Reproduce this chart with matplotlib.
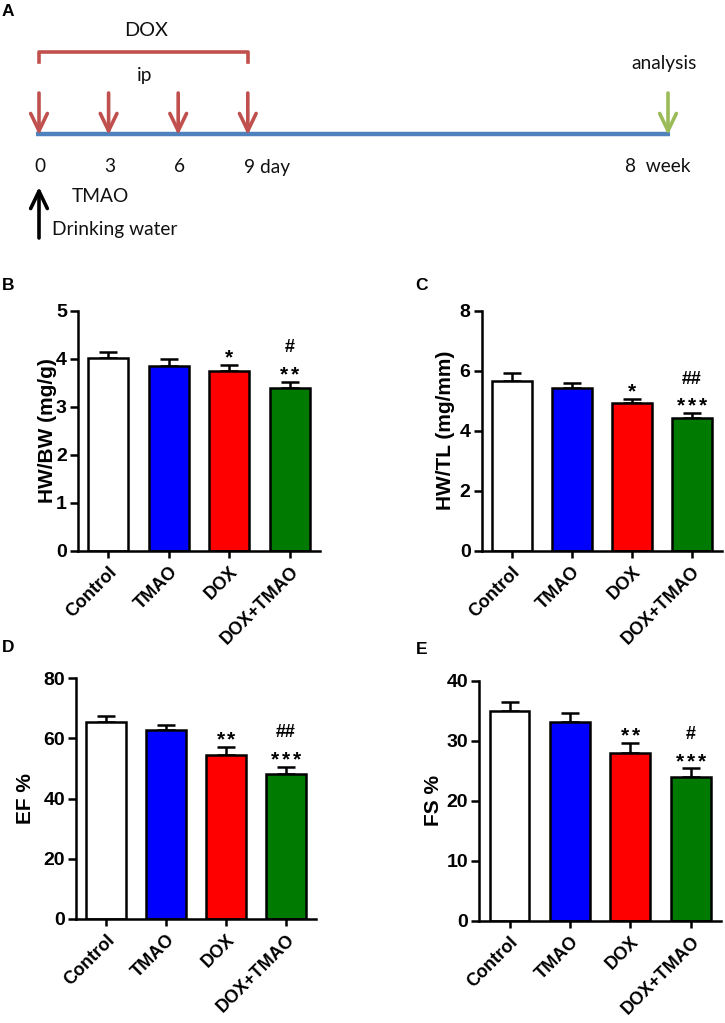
import matplotlib
matplotlib.use('Agg')
import matplotlib.pyplot as plt
from matplotlib.patches import FancyArrowPatch

# ---- data ----
groups = ['Control', 'TMAO', 'DOX', 'DOX+TMAO']
colors = ['white', '#0000ff', '#ff0000', '#007a00']

hwbw = [4.02, 3.85, 3.74, 3.40]
hwbw_err = [0.13, 0.14, 0.13, 0.12]
hwtl = [5.67, 5.41, 4.92, 4.43]
hwtl_err = [0.26, 0.17, 0.14, 0.15]
ef = [65.4, 62.7, 54.6, 48.1]
ef_err = [2.0, 1.8, 2.5, 2.4]
fs = [35.05, 33.2, 28.0, 23.9]
fs_err = [1.4, 1.5, 1.7, 1.5]

# number of asterisks / significance marks per group
star_b = [0, 0, 1, 2]
hash_b = ['', '', '', '#']
star_c = [0, 0, 1, 3]
hash_c = ['', '', '', '##']
star_d = [0, 0, 2, 3]
hash_d = ['', '', '', '##']
star_e = [0, 0, 2, 3]
hash_e = ['', '', '', '#']

dose_days = [0, 3, 6, 9]
day_labels = ['0', '3', '6', '9 day']

W, H = 725, 1023
fig = plt.figure(figsize=(W / 100, H / 100), dpi=100)
plt.rcParams['font.family'] = ['Liberation Sans', 'DejaVu Sans']

# ---- panel A: schematic timeline (pixel coordinates) ----
ax0 = fig.add_axes([0, 0, 1, 1])
ax0.set_xlim(0, W)
ax0.set_ylim(H, 0)
ax0.axis('off')

red = '#c0504d'
blue = '#4f81bd'
green = '#9bbb59'
x0, step = 39, 23.2
line_y = 134
end_x = 668
sfont = 'Lato'
tsize = 13.8

ax0.plot([36, end_x + 2], [line_y, line_y], color=blue, lw=3.2, solid_capstyle='butt', zorder=1)


def arrow(xa, ya, xb, yb, c):
    ax0.add_patch(FancyArrowPatch((xa, ya), (xb, yb),
                                  arrowstyle='->,head_length=12.5,head_width=6',
                                  mutation_scale=1, color=c, lw=2.6, zorder=2,
                                  shrinkA=0, shrinkB=0))


for d, lab in zip(dose_days, day_labels):
    xd = x0 + d * step
    arrow(xd, 93, xd, line_y + 1, red)
    ax0.text(xd - 4 if 'day' in lab else xd + 1, 167, lab, fontsize=tsize, family=sfont,
             ha='left' if 'day' in lab else 'center', va='center', color='#111111')
arrow(end_x, 93, end_x, line_y + 1, green)
ax0.text(end_x - 10, 167, '8  week', fontsize=tsize, family=sfont, ha='center', va='center', color='#111111')
ax0.text(end_x - 4, 63, 'analysis', fontsize=tsize, family=sfont, ha='center', va='center', color='#111111')

bx1, bx2 = x0, x0 + dose_days[-1] * step
ax0.plot([bx1, bx1, bx2, bx2], [62, 52, 52, 62], color=red, lw=2.6, zorder=2)
ax0.text((bx1 + bx2) / 2 + 3, 31, 'DOX', fontsize=tsize + 0.5, family=sfont, ha='center', va='center', color='#111111')
ax0.text((bx1 + bx2) / 2 + 1, 75, 'ip', fontsize=tsize, family=sfont, ha='center', va='center', color='#111111')

arrow(x0, 238, x0, 187, 'black')
ax0.text(72, 197, 'TMAO', fontsize=tsize, family=sfont, ha='left', va='center', color='#111111')
ax0.text(52, 229, 'Drinking water', fontsize=tsize, family=sfont, ha='left', va='center', color='#111111')

for lx, ly, lt in [(8, 12, 'A'), (8, 285, 'B'), (422, 285, 'C'), (8, 647, 'D'), (422, 649, 'E')]:
    ax0.text(lx, ly, lt, fontsize=12.5, fontweight='bold', ha='center', va='center')


# ---- bar panels ----
def bar_panel(px, vals, errs, ymax, yticks, ylabel, labx, stars, hashes):
    l, r, t, b = px
    ax = fig.add_axes([l / W, 1 - b / H, (r - l) / W, (b - t) / H])
    x = list(range(len(groups)))
    ax.bar(x, vals, width=0.66, color=colors, edgecolor='black', linewidth=1.8, zorder=2)
    ax.errorbar(x, vals, yerr=[[0] * len(errs), errs], fmt='none', ecolor='black',
                elinewidth=1.8, capsize=6.5, capthick=1.8, zorder=1)
    ax.set_xlim(-0.5, 3.5)
    ax.set_ylim(0, ymax)
    ax.set_yticks(yticks)
    ax.set_xticks(x)
    ax.set_xticklabels(groups, rotation=45, ha='right', va='top', rotation_mode='anchor',
                       fontsize=13, fontweight='bold')
    for lab in ax.get_yticklabels():
        lab.set_fontweight('bold')
    ax.tick_params(axis='y', labelsize=14, width=1.8, length=6, pad=2)
    ax.tick_params(axis='x', width=1.8, length=5, pad=4)
    for s in ['top', 'right']:
        ax.spines[s].set_visible(False)
    for s in ['left', 'bottom']:
        ax.spines[s].set_linewidth(1.8)
    ax.set_ylabel(ylabel, fontsize=15, fontweight='bold', va='center')
    ax.yaxis.set_label_coords(labx, 0.5)
    for i in x:
        top = vals[i] + errs[i]
        n = stars[i]
        for k in range(n):
            ax.annotate('*', (i, top), xytext=((k - (n - 1) / 2) * 7.8, 5), textcoords='offset points',
                        ha='center', va='center', fontsize=15, fontweight='bold')
        if hashes[i]:
            ax.annotate(hashes[i], (i, top), xytext=(0, 24.5), textcoords='offset points',
                        ha='center', va='center', fontsize=13, fontweight='bold')
    return ax


bar_panel((78, 320, 310.7, 550.7), hwbw, hwbw_err, 5, [0, 1, 2, 3, 4, 5],
          'HW/BW (mg/g)', -0.128, star_b, hash_b)
bar_panel((481.7, 721.7, 310.7, 550.7), hwtl, hwtl_err, 8, [0, 2, 4, 6, 8],
          'HW/TL (mg/mm)', -0.149, star_c, hash_c)
bar_panel((76, 316, 678.3, 918.7), ef, ef_err, 80, [0, 20, 40, 60, 80],
          'EF %', -0.212, star_d, hash_d)
bar_panel((479.3, 721, 681, 920.7), fs, fs_err, 40, [0, 10, 20, 30, 40],
          'FS %', -0.19, star_e, hash_e)

fig.savefig('out.png', dpi=100)
